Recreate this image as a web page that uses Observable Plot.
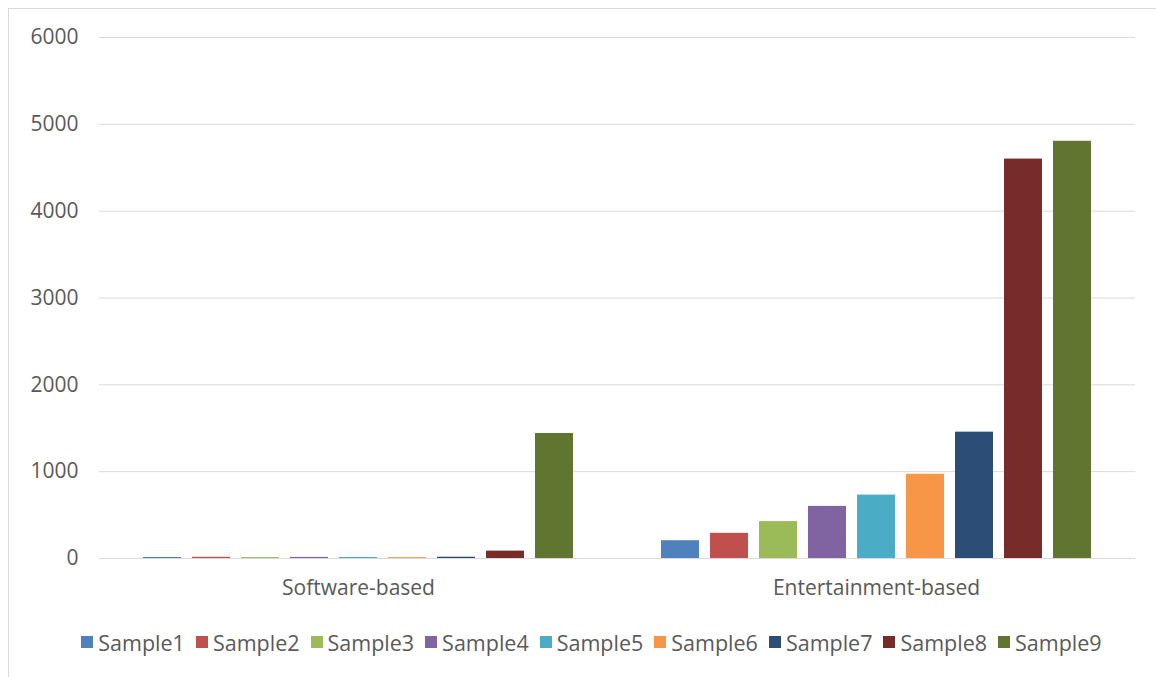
<!DOCTYPE html>
<html>
<head>
<meta charset="utf-8">
<script src="https://cdn.jsdelivr.net/npm/d3@7"></script>
<script src="https://cdn.jsdelivr.net/npm/@observablehq/plot@0.6"></script>
<style>
  html, body { margin: 0; padding: 0; background: #fff; width: 1156px; height: 677px; overflow: hidden; }
  #frame { position: absolute; left: 8px; top: 8px; width: 1170px; height: 700px; border: 1px solid #d9d9d9; box-sizing: border-box; }
  #chart { position: absolute; left: 0; top: 0; }
  #legend { position: absolute; left: 0; top: 628px; width: 1156px; height: 28px; display: flex; justify-content: center; align-items: center;
            font-family: "Open Sans", sans-serif; font-size: 21.5px; color: #595959; padding-left: 38px; box-sizing: border-box; }
  .item { display: flex; align-items: center; margin-right: 11px; }
  .sw { width: 12px; height: 12px; margin-right: 5px; }
</style>
</head>
<body>
<div id="frame"></div>
<div id="chart"></div>
<div id="legend"></div>
<script>
const categories = ["Software-based", "Entertainment-based"];
const samples = ["Sample1","Sample2","Sample3","Sample4","Sample5","Sample6","Sample7","Sample8","Sample9"];
const softwareValues = [12, 14, 11, 13, 12, 10, 15, 85, 1440];
const entertainmentValues = [205, 290, 425, 600, 730, 970, 1455, 4600, 4805];
const colors = ["#4F81BD","#C0504D","#9BBB59","#8064A2","#4BACC6","#F79646","#2C4D75","#772C2A","#5F7530"];
const yTicks = [0, 1000, 2000, 3000, 4000, 5000, 6000];

const data = [];
samples.forEach((s, i) => data.push({category: categories[0], sample: s, value: softwareValues[i]}));
samples.forEach((s, i) => data.push({category: categories[1], sample: s, value: entertainmentValues[i]}));

const chart = Plot.plot({
  width: 1156,
  height: 610,
  marginLeft: 98,
  marginRight: 21,
  marginTop: 37,
  marginBottom: 52,
  style: {fontFamily: "Open Sans, sans-serif", fontSize: "21px", color: "#595959", background: "transparent"},
  fx: {domain: categories, paddingInner: 0, paddingOuter: 0, label: null, axis: null},
  x: {domain: samples, paddingInner: 0.23, paddingOuter: 0.865, axis: null},
  y: {domain: [0, 6000], ticks: yTicks, label: null, axis: null},
  color: {domain: samples, range: colors},
  marks: [
    Plot.gridY(yTicks.filter(d => d > 0), {stroke: "#d9d9d9", strokeOpacity: 1, strokeWidth: 1}),
    Plot.ruleY([0], {stroke: "#d9d9d9", strokeWidth: 1}),
    Plot.barY(data, {fx: "category", x: "sample", y: "value", fill: "sample"}),
    Plot.axisY({ticks: yTicks, tickSize: 0, tickPadding: 21, tickFormat: d => String(d), label: null, fill: "#595959", fontSize: 21}),
    Plot.axisFx({anchor: "bottom", tickSize: 0, tickPadding: 22, label: null, fill: "#595959", fontSize: 21})
  ]
});
document.getElementById("chart").appendChild(chart);

const legend = document.getElementById("legend");
samples.forEach((s, i) => {
  const it = document.createElement("div");
  it.className = "item";
  const sw = document.createElement("div");
  sw.className = "sw";
  sw.style.background = colors[i];
  const t = document.createElement("span");
  t.textContent = s;
  it.appendChild(sw);
  it.appendChild(t);
  legend.appendChild(it);
});
</script>
</body>
</html>
